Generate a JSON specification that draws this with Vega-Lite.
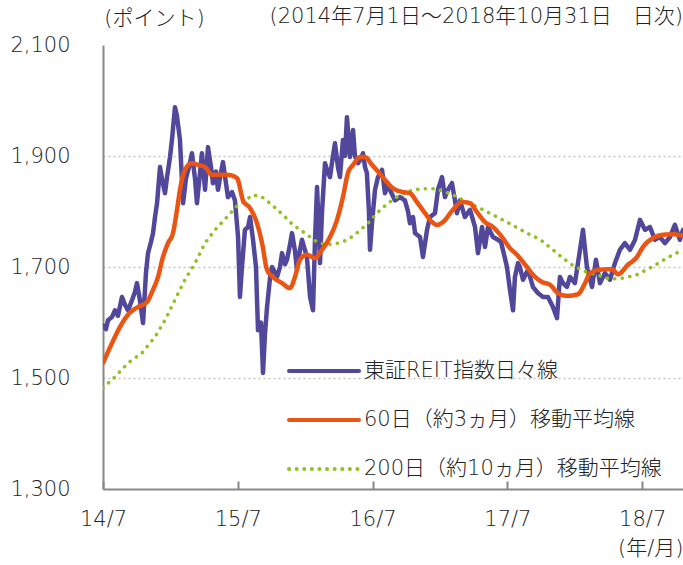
{
  "$schema": "https://vega.github.io/schema/vega-lite/v6.json",
  "width": 580,
  "height": 444,
  "autosize": {"type": "none"},
  "padding": {"left": 103, "top": 45, "right": 0, "bottom": 76},
  "background": "white",
  "config": {
    "view": {"stroke": null},
    "font": "DejaVu Sans, Noto Sans CJK JP",
    "axis": {"labelFont": "DejaVu Sans, Noto Sans CJK JP", "titleFont": "DejaVu Sans, Noto Sans CJK JP", "labelFontWeight": 300, "titleFontWeight": 300},
    "legend": {"labelFont": "DejaVu Sans, Noto Sans CJK JP", "labelFontWeight": 300}
  },
  "title": {
    "text": "(2014年7月1日～2018年10月31日　日次)",
    "anchor": "end",
    "frame": "group",
    "fontSize": 21,
    "fontWeight": 300,
    "color": "#222222",
    "offset": 16,
    "dy": 36,
    "font": "DejaVu Sans, Noto Sans CJK JP"
  },
  "data": {
    "values": [
      {"series": "東証REIT指数日々線", "t": 2014.500, "v": 1595},
      {"series": "東証REIT指数日々線", "t": 2014.522, "v": 1588},
      {"series": "東証REIT指数日々線", "t": 2014.537, "v": 1604},
      {"series": "東証REIT指数日々線", "t": 2014.567, "v": 1610},
      {"series": "東証REIT指数日々線", "t": 2014.589, "v": 1622},
      {"series": "東証REIT指数日々線", "t": 2014.611, "v": 1612},
      {"series": "東証REIT指数日々線", "t": 2014.641, "v": 1646},
      {"series": "東証REIT指数日々線", "t": 2014.663, "v": 1632},
      {"series": "東証REIT指数日々線", "t": 2014.685, "v": 1622},
      {"series": "東証REIT指数日々線", "t": 2014.715, "v": 1640},
      {"series": "東証REIT指数日々線", "t": 2014.737, "v": 1655},
      {"series": "東証REIT指数日々線", "t": 2014.752, "v": 1671},
      {"series": "東証REIT指数日々線", "t": 2014.774, "v": 1640},
      {"series": "東証REIT指数日々線", "t": 2014.797, "v": 1599},
      {"series": "東証REIT指数日々線", "t": 2014.819, "v": 1690},
      {"series": "東証REIT指数日々線", "t": 2014.834, "v": 1725},
      {"series": "東証REIT指数日々線", "t": 2014.856, "v": 1745},
      {"series": "東証REIT指数日々線", "t": 2014.871, "v": 1761},
      {"series": "東証REIT指数日々線", "t": 2014.886, "v": 1790},
      {"series": "東証REIT指数日々線", "t": 2014.901, "v": 1815},
      {"series": "東証REIT指数日々線", "t": 2014.923, "v": 1880},
      {"series": "東証REIT指数日々線", "t": 2014.938, "v": 1858},
      {"series": "東証REIT指数日々線", "t": 2014.960, "v": 1833},
      {"series": "東証REIT指数日々線", "t": 2014.975, "v": 1862},
      {"series": "東証REIT指数日々線", "t": 2014.997, "v": 1898},
      {"series": "東証REIT指数日々線", "t": 2015.012, "v": 1930},
      {"series": "東証REIT指数日々線", "t": 2015.034, "v": 1988},
      {"series": "東証REIT指数日々線", "t": 2015.049, "v": 1972},
      {"series": "東証REIT指数日々線", "t": 2015.071, "v": 1929},
      {"series": "東証REIT指数日々線", "t": 2015.094, "v": 1815},
      {"series": "東証REIT指数日々線", "t": 2015.116, "v": 1860},
      {"series": "東証REIT指数日々線", "t": 2015.138, "v": 1880},
      {"series": "東証REIT指数日々線", "t": 2015.160, "v": 1905},
      {"series": "東証REIT指数日々線", "t": 2015.183, "v": 1858},
      {"series": "東証REIT指数日々線", "t": 2015.197, "v": 1815},
      {"series": "東証REIT指数日々線", "t": 2015.220, "v": 1870},
      {"series": "東証REIT指数日々線", "t": 2015.234, "v": 1905},
      {"series": "東証REIT指数日々線", "t": 2015.257, "v": 1839},
      {"series": "東証REIT指数日々線", "t": 2015.279, "v": 1916},
      {"series": "東証REIT指数日々線", "t": 2015.301, "v": 1880},
      {"series": "東証REIT指数日々線", "t": 2015.316, "v": 1851},
      {"series": "東証REIT指数日々線", "t": 2015.338, "v": 1872},
      {"series": "東証REIT指数日々線", "t": 2015.353, "v": 1839},
      {"series": "東証REIT指数日々線", "t": 2015.375, "v": 1870},
      {"series": "東証REIT指数日々線", "t": 2015.390, "v": 1889},
      {"series": "東証REIT指数日々線", "t": 2015.413, "v": 1850},
      {"series": "東証REIT指数日々線", "t": 2015.427, "v": 1826},
      {"series": "東証REIT指数日々線", "t": 2015.457, "v": 1835},
      {"series": "東証REIT指数日々線", "t": 2015.479, "v": 1820},
      {"series": "東証REIT指数日々線", "t": 2015.502, "v": 1754},
      {"series": "東証REIT指数日々線", "t": 2015.516, "v": 1646},
      {"series": "東証REIT指数日々線", "t": 2015.531, "v": 1700},
      {"series": "東証REIT指数日々線", "t": 2015.553, "v": 1767},
      {"series": "東証REIT指数日々線", "t": 2015.576, "v": 1772},
      {"series": "東証REIT指数日々線", "t": 2015.591, "v": 1790},
      {"series": "東証REIT指数日々線", "t": 2015.613, "v": 1749},
      {"series": "東証REIT指数日々線", "t": 2015.635, "v": 1700},
      {"series": "東証REIT指数日々線", "t": 2015.650, "v": 1586},
      {"series": "東証REIT指数日々線", "t": 2015.672, "v": 1600},
      {"series": "東証REIT指数日々線", "t": 2015.687, "v": 1509},
      {"series": "東証REIT指数日々線", "t": 2015.702, "v": 1580},
      {"series": "東証REIT指数日々線", "t": 2015.717, "v": 1628},
      {"series": "東証REIT指数日々線", "t": 2015.739, "v": 1680},
      {"series": "東証REIT指数日々線", "t": 2015.754, "v": 1700},
      {"series": "東証REIT指数日々線", "t": 2015.776, "v": 1690},
      {"series": "東証REIT指数日々線", "t": 2015.791, "v": 1682},
      {"series": "東証REIT指数日々線", "t": 2015.813, "v": 1700},
      {"series": "東証REIT指数日々線", "t": 2015.828, "v": 1725},
      {"series": "東証REIT指数日々線", "t": 2015.850, "v": 1705},
      {"series": "東証REIT指数日々線", "t": 2015.865, "v": 1713},
      {"series": "東証REIT指数日々線", "t": 2015.887, "v": 1740},
      {"series": "東証REIT指数日々線", "t": 2015.902, "v": 1761},
      {"series": "東証REIT指数日々線", "t": 2015.924, "v": 1730},
      {"series": "東証REIT指数日々線", "t": 2015.939, "v": 1695},
      {"series": "東証REIT指数日々線", "t": 2015.961, "v": 1730},
      {"series": "東証REIT指数日々線", "t": 2015.976, "v": 1749},
      {"series": "東証REIT指数日々線", "t": 2015.999, "v": 1730},
      {"series": "東証REIT指数日々線", "t": 2016.013, "v": 1718},
      {"series": "東証REIT指数日々線", "t": 2016.036, "v": 1646},
      {"series": "東証REIT指数日々線", "t": 2016.058, "v": 1622},
      {"series": "東証REIT指数日々線", "t": 2016.073, "v": 1750},
      {"series": "東証REIT指数日々線", "t": 2016.088, "v": 1844},
      {"series": "東証REIT指数日々線", "t": 2016.102, "v": 1760},
      {"series": "東証REIT指数日々線", "t": 2016.110, "v": 1707},
      {"series": "東証REIT指数日々線", "t": 2016.125, "v": 1800},
      {"series": "東証REIT指数日々線", "t": 2016.147, "v": 1887},
      {"series": "東証REIT指数日々線", "t": 2016.169, "v": 1870},
      {"series": "東証REIT指数日々線", "t": 2016.184, "v": 1862},
      {"series": "東証REIT指数日々線", "t": 2016.206, "v": 1900},
      {"series": "東証REIT指数日々線", "t": 2016.221, "v": 1923},
      {"series": "東証REIT指数日々線", "t": 2016.243, "v": 1880},
      {"series": "東証REIT指数日々線", "t": 2016.258, "v": 1862},
      {"series": "東証REIT指数日々線", "t": 2016.280, "v": 1929},
      {"series": "東証REIT指数日々線", "t": 2016.295, "v": 1900},
      {"series": "東証REIT指数日々線", "t": 2016.310, "v": 1970},
      {"series": "東証REIT指数日々線", "t": 2016.332, "v": 1898},
      {"series": "東証REIT指数日々線", "t": 2016.355, "v": 1947},
      {"series": "東証REIT指数日々線", "t": 2016.369, "v": 1900},
      {"series": "東証REIT指数日々線", "t": 2016.392, "v": 1887},
      {"series": "東証REIT指数日々線", "t": 2016.414, "v": 1895},
      {"series": "東証REIT指数日々線", "t": 2016.429, "v": 1905},
      {"series": "東証REIT指数日々線", "t": 2016.444, "v": 1880},
      {"series": "東証REIT指数日々線", "t": 2016.458, "v": 1869},
      {"series": "東証REIT指数日々線", "t": 2016.473, "v": 1800},
      {"series": "東証REIT指数日々線", "t": 2016.481, "v": 1731},
      {"series": "東証REIT指数日々線", "t": 2016.496, "v": 1780},
      {"series": "東証REIT指数日々線", "t": 2016.518, "v": 1839},
      {"series": "東証REIT指数日々線", "t": 2016.540, "v": 1862},
      {"series": "東証REIT指数日々線", "t": 2016.570, "v": 1875},
      {"series": "東証REIT指数日々線", "t": 2016.592, "v": 1833},
      {"series": "東証REIT指数日々線", "t": 2016.614, "v": 1850},
      {"series": "東証REIT指数日々線", "t": 2016.629, "v": 1839},
      {"series": "東証REIT指数日々線", "t": 2016.666, "v": 1820},
      {"series": "東証REIT指数日々線", "t": 2016.703, "v": 1826},
      {"series": "東証REIT指数日々線", "t": 2016.740, "v": 1820},
      {"series": "東証REIT指数日々線", "t": 2016.763, "v": 1800},
      {"series": "東証REIT指数日々線", "t": 2016.777, "v": 1779},
      {"series": "東証REIT指数日々線", "t": 2016.800, "v": 1790},
      {"series": "東証REIT指数日々線", "t": 2016.815, "v": 1761},
      {"series": "東証REIT指数日々線", "t": 2016.852, "v": 1754},
      {"series": "東証REIT指数日々線", "t": 2016.874, "v": 1718},
      {"series": "東証REIT指数日々線", "t": 2016.904, "v": 1767},
      {"series": "東証REIT指数日々線", "t": 2016.926, "v": 1790},
      {"series": "東証REIT指数日々線", "t": 2016.963, "v": 1797},
      {"series": "東証REIT指数日々線", "t": 2016.985, "v": 1839},
      {"series": "東証REIT指数日々線", "t": 2017.015, "v": 1862},
      {"series": "東証REIT指数日々線", "t": 2017.037, "v": 1826},
      {"series": "東証REIT指数日々線", "t": 2017.059, "v": 1839},
      {"series": "東証REIT指数日々線", "t": 2017.089, "v": 1851},
      {"series": "東証REIT指数日々線", "t": 2017.111, "v": 1820},
      {"series": "東証REIT指数日々線", "t": 2017.126, "v": 1797},
      {"series": "東証REIT指数日々線", "t": 2017.148, "v": 1820},
      {"series": "東証REIT指数日々線", "t": 2017.185, "v": 1790},
      {"series": "東証REIT指数日々線", "t": 2017.223, "v": 1803},
      {"series": "東証REIT指数日々線", "t": 2017.260, "v": 1772},
      {"series": "東証REIT指数日々線", "t": 2017.282, "v": 1725},
      {"series": "東証REIT指数日々線", "t": 2017.312, "v": 1772},
      {"series": "東証REIT指数日々線", "t": 2017.334, "v": 1736},
      {"series": "東証REIT指数日々線", "t": 2017.356, "v": 1772},
      {"series": "東証REIT指数日々線", "t": 2017.393, "v": 1754},
      {"series": "東証REIT指数日々線", "t": 2017.430, "v": 1749},
      {"series": "東証REIT指数日々線", "t": 2017.453, "v": 1745},
      {"series": "東証REIT指数日々線", "t": 2017.467, "v": 1731},
      {"series": "東証REIT指数日々線", "t": 2017.497, "v": 1700},
      {"series": "東証REIT指数日々線", "t": 2017.519, "v": 1659},
      {"series": "東証REIT指数日々線", "t": 2017.542, "v": 1622},
      {"series": "東証REIT指数日々線", "t": 2017.556, "v": 1682},
      {"series": "東証REIT指数日々線", "t": 2017.579, "v": 1707},
      {"series": "東証REIT指数日々線", "t": 2017.593, "v": 1700},
      {"series": "東証REIT指数日々線", "t": 2017.616, "v": 1677},
      {"series": "東証REIT指数日々線", "t": 2017.653, "v": 1695},
      {"series": "東証REIT指数日々線", "t": 2017.690, "v": 1664},
      {"series": "東証REIT指数日々線", "t": 2017.727, "v": 1653},
      {"series": "東証REIT指数日々線", "t": 2017.764, "v": 1646},
      {"series": "東証REIT指数日々線", "t": 2017.801, "v": 1646},
      {"series": "東証REIT指数日々線", "t": 2017.838, "v": 1628},
      {"series": "東証REIT指数日々線", "t": 2017.868, "v": 1608},
      {"series": "東証REIT指数日々線", "t": 2017.890, "v": 1682},
      {"series": "東証REIT指数日々線", "t": 2017.912, "v": 1671},
      {"series": "東証REIT指数日々線", "t": 2017.942, "v": 1664},
      {"series": "東証REIT指数日々線", "t": 2017.964, "v": 1682},
      {"series": "東証REIT指数日々線", "t": 2018.001, "v": 1671},
      {"series": "東証REIT指数日々線", "t": 2018.039, "v": 1731},
      {"series": "東証REIT指数日々線", "t": 2018.061, "v": 1767},
      {"series": "東証REIT指数日々線", "t": 2018.090, "v": 1700},
      {"series": "東証REIT指数日々線", "t": 2018.128, "v": 1664},
      {"series": "東証REIT指数日々線", "t": 2018.157, "v": 1713},
      {"series": "東証REIT指数日々線", "t": 2018.187, "v": 1671},
      {"series": "東証REIT指数日々線", "t": 2018.224, "v": 1689},
      {"series": "東証REIT指数日々線", "t": 2018.261, "v": 1677},
      {"series": "東証REIT指数日々線", "t": 2018.298, "v": 1707},
      {"series": "東証REIT指数日々線", "t": 2018.335, "v": 1731},
      {"series": "東証REIT指数日々線", "t": 2018.372, "v": 1743},
      {"series": "東証REIT指数日々線", "t": 2018.410, "v": 1731},
      {"series": "東証REIT指数日々線", "t": 2018.447, "v": 1749},
      {"series": "東証REIT指数日々線", "t": 2018.484, "v": 1785},
      {"series": "東証REIT指数日々線", "t": 2018.521, "v": 1767},
      {"series": "東証REIT指数日々線", "t": 2018.558, "v": 1772},
      {"series": "東証REIT指数日々線", "t": 2018.595, "v": 1749},
      {"series": "東証REIT指数日々線", "t": 2018.632, "v": 1754},
      {"series": "東証REIT指数日々線", "t": 2018.669, "v": 1743},
      {"series": "東証REIT指数日々線", "t": 2018.706, "v": 1754},
      {"series": "東証REIT指数日々線", "t": 2018.743, "v": 1776},
      {"series": "東証REIT指数日々線", "t": 2018.780, "v": 1749},
      {"series": "東証REIT指数日々線", "t": 2018.803, "v": 1767},

      {"series": "60日（約3ヵ月）移動平均線", "t": 2014.500, "v": 1527},
      {"series": "60日（約3ヵ月）移動平均線", "t": 2014.567, "v": 1563},
      {"series": "60日（約3ヵ月）移動平均線", "t": 2014.626, "v": 1592},
      {"series": "60日（約3ヵ月）移動平均線", "t": 2014.685, "v": 1614},
      {"series": "60日（約3ヵ月）移動平均線", "t": 2014.760, "v": 1628},
      {"series": "60日（約3ヵ月）移動平均線", "t": 2014.826, "v": 1637},
      {"series": "60日（約3ヵ月）移動平均線", "t": 2014.871, "v": 1659},
      {"series": "60日（約3ヵ月）移動平均線", "t": 2014.908, "v": 1682},
      {"series": "60日（約3ヵ月）移動平均線", "t": 2014.945, "v": 1718},
      {"series": "60日（約3ヵ月）移動平均線", "t": 2014.982, "v": 1743},
      {"series": "60日（約3ヵ月）移動平均線", "t": 2015.019, "v": 1761},
      {"series": "60日（約3ヵ月）移動平均線", "t": 2015.049, "v": 1803},
      {"series": "60日（約3ヵ月）移動平均線", "t": 2015.071, "v": 1839},
      {"series": "60日（約3ヵ月）移動平均線", "t": 2015.108, "v": 1875},
      {"series": "60日（約3ヵ月）移動平均線", "t": 2015.160, "v": 1887},
      {"series": "60日（約3ヵ月）移動平均線", "t": 2015.205, "v": 1884},
      {"series": "60日（約3ヵ月）移動平均線", "t": 2015.257, "v": 1880},
      {"series": "60日（約3ヵ月）移動平均線", "t": 2015.309, "v": 1866},
      {"series": "60日（約3ヵ月）移動平均線", "t": 2015.353, "v": 1866},
      {"series": "60日（約3ヵ月）移動平均線", "t": 2015.427, "v": 1866},
      {"series": "60日（約3ヵ月）移動平均線", "t": 2015.494, "v": 1860},
      {"series": "60日（約3ヵ月）移動平均線", "t": 2015.539, "v": 1820},
      {"series": "60日（約3ヵ月）移動平均線", "t": 2015.591, "v": 1806},
      {"series": "60日（約3ヵ月）移動平均線", "t": 2015.642, "v": 1779},
      {"series": "60日（約3ヵ月）移動平均線", "t": 2015.680, "v": 1743},
      {"series": "60日（約3ヵ月）移動平均線", "t": 2015.717, "v": 1695},
      {"series": "60日（約3ヵ月）移動平均線", "t": 2015.761, "v": 1682},
      {"series": "60日（約3ヵ月）移動平均線", "t": 2015.828, "v": 1671},
      {"series": "60日（約3ヵ月）移動平均線", "t": 2015.887, "v": 1662},
      {"series": "60日（約3ヵ月）移動平均線", "t": 2015.924, "v": 1682},
      {"series": "60日（約3ヵ月）移動平均線", "t": 2015.961, "v": 1713},
      {"series": "60日（約3ヵ月）移動平均線", "t": 2016.013, "v": 1722},
      {"series": "60日（約3ヵ月）移動平均線", "t": 2016.073, "v": 1716},
      {"series": "60日（約3ヵ月）移動平均線", "t": 2016.125, "v": 1731},
      {"series": "60日（約3ヵ月）移動平均線", "t": 2016.184, "v": 1754},
      {"series": "60日（約3ヵ月）移動平均線", "t": 2016.236, "v": 1785},
      {"series": "60日（約3ヵ月）移動平均線", "t": 2016.280, "v": 1826},
      {"series": "60日（約3ヵ月）移動平均線", "t": 2016.317, "v": 1869},
      {"series": "60日（約3ヵ月）移動平均線", "t": 2016.355, "v": 1884},
      {"series": "60日（約3ヵ月）移動平均線", "t": 2016.407, "v": 1898},
      {"series": "60日（約3ヵ月）移動平均線", "t": 2016.444, "v": 1898},
      {"series": "60日（約3ヵ月）移動平均線", "t": 2016.496, "v": 1884},
      {"series": "60日（約3ヵ月）移動平均線", "t": 2016.540, "v": 1872},
      {"series": "60日（約3ヵ月）移動平均線", "t": 2016.592, "v": 1857},
      {"series": "60日（約3ヵ月）移動平均線", "t": 2016.651, "v": 1842},
      {"series": "60日（約3ヵ月）移動平均線", "t": 2016.726, "v": 1835},
      {"series": "60日（約3ヵ月）移動平均線", "t": 2016.777, "v": 1833},
      {"series": "60日（約3ヵ月）移動平均線", "t": 2016.829, "v": 1817},
      {"series": "60日（約3ヵ月）移動平均線", "t": 2016.889, "v": 1797},
      {"series": "60日（約3ヵ月）移動平均線", "t": 2016.941, "v": 1781},
      {"series": "60日（約3ヵ月）移動平均線", "t": 2016.978, "v": 1776},
      {"series": "60日（約3ヵ月）移動平均線", "t": 2017.022, "v": 1781},
      {"series": "60日（約3ヵ月）移動平均線", "t": 2017.096, "v": 1803},
      {"series": "60日（約3ヵ月）移動平均線", "t": 2017.163, "v": 1817},
      {"series": "60日（約3ヵ月）移動平均線", "t": 2017.223, "v": 1815},
      {"series": "60日（約3ヵ月）移動平均線", "t": 2017.274, "v": 1799},
      {"series": "60日（約3ヵ月）移動平均線", "t": 2017.334, "v": 1781},
      {"series": "60日（約3ヵ月）移動平均線", "t": 2017.393, "v": 1772},
      {"series": "60日（約3ヵ月）移動平均線", "t": 2017.460, "v": 1754},
      {"series": "60日（約3ヵ月）移動平均線", "t": 2017.519, "v": 1734},
      {"series": "60日（約3ヵ月）移動平均線", "t": 2017.571, "v": 1722},
      {"series": "60日（約3ヵ月）移動平均線", "t": 2017.645, "v": 1700},
      {"series": "60日（約3ヵ月）移動平均線", "t": 2017.690, "v": 1686},
      {"series": "60日（約3ヵ月）移動平均線", "t": 2017.757, "v": 1673},
      {"series": "60日（約3ヵ月）移動平均線", "t": 2017.816, "v": 1668},
      {"series": "60日（約3ヵ月）移動平均線", "t": 2017.875, "v": 1653},
      {"series": "60日（約3ヵ月）移動平均線", "t": 2017.942, "v": 1648},
      {"series": "60日（約3ヵ月）移動平均線", "t": 2018.024, "v": 1651},
      {"series": "60日（約3ヵ月）移動平均線", "t": 2018.076, "v": 1671},
      {"series": "60日（約3ヵ月）移動平均線", "t": 2018.113, "v": 1689},
      {"series": "60日（約3ヵ月）移動平均線", "t": 2018.187, "v": 1695},
      {"series": "60日（約3ヵ月）移動平均線", "t": 2018.276, "v": 1696},
      {"series": "60日（約3ヵ月）移動平均線", "t": 2018.320, "v": 1687},
      {"series": "60日（約3ヵ月）移動平均線", "t": 2018.395, "v": 1704},
      {"series": "60日（約3ヵ月）移動平均線", "t": 2018.461, "v": 1718},
      {"series": "60日（約3ヵ月）移動平均線", "t": 2018.506, "v": 1736},
      {"series": "60日（約3ヵ月）移動平均線", "t": 2018.580, "v": 1752},
      {"series": "60日（約3ヵ月）移動平均線", "t": 2018.654, "v": 1758},
      {"series": "60日（約3ヵ月）移動平均線", "t": 2018.728, "v": 1759},
      {"series": "60日（約3ヵ月）移動平均線", "t": 2018.803, "v": 1756},

      {"series": "200日（約10ヵ月）移動平均線", "t": 2014.500, "v": 1482},
      {"series": "200日（約10ヵ月）移動平均線", "t": 2014.589, "v": 1502},
      {"series": "200日（約10ヵ月）移動平均線", "t": 2014.685, "v": 1527},
      {"series": "200日（約10ヵ月）移動平均線", "t": 2014.789, "v": 1545},
      {"series": "200日（約10ヵ月）移動平均線", "t": 2014.886, "v": 1574},
      {"series": "200日（約10ヵ月）移動平均線", "t": 2014.960, "v": 1604},
      {"series": "200日（約10ヵ月）移動平均線", "t": 2015.034, "v": 1641},
      {"series": "200日（約10ヵ月）移動平均線", "t": 2015.108, "v": 1677},
      {"series": "200日（約10ヵ月）移動平均線", "t": 2015.183, "v": 1707},
      {"series": "200日（約10ヵ月）移動平均線", "t": 2015.257, "v": 1743},
      {"series": "200日（約10ヵ月）移動平均線", "t": 2015.331, "v": 1767},
      {"series": "200日（約10ヵ月）移動平均線", "t": 2015.420, "v": 1790},
      {"series": "200日（約10ヵ月）移動平均線", "t": 2015.494, "v": 1810},
      {"series": "200日（約10ヵ月）移動平均線", "t": 2015.539, "v": 1817},
      {"series": "200日（約10ヵ月）移動平均線", "t": 2015.613, "v": 1830},
      {"series": "200日（約10ヵ月）移動平均線", "t": 2015.680, "v": 1826},
      {"series": "200日（約10ヵ月）移動平均線", "t": 2015.754, "v": 1812},
      {"series": "200日（約10ヵ月）移動平均線", "t": 2015.835, "v": 1794},
      {"series": "200日（約10ヵ月）移動平均線", "t": 2015.909, "v": 1776},
      {"series": "200日（約10ヵ月）移動平均線", "t": 2015.999, "v": 1761},
      {"series": "200日（約10ヵ月）移動平均線", "t": 2016.088, "v": 1745},
      {"series": "200日（約10ヵ月）移動平均線", "t": 2016.162, "v": 1740},
      {"series": "200日（約10ヵ月）移動平均線", "t": 2016.243, "v": 1743},
      {"series": "200日（約10ヵ月）移動平均線", "t": 2016.317, "v": 1749},
      {"series": "200日（約10ヵ月）移動平均線", "t": 2016.392, "v": 1763},
      {"series": "200日（約10ヵ月）移動平均線", "t": 2016.466, "v": 1779},
      {"series": "200日（約10ヵ月）移動平均線", "t": 2016.540, "v": 1799},
      {"series": "200日（約10ヵ月）移動平均線", "t": 2016.614, "v": 1815},
      {"series": "200日（約10ヵ月）移動平均線", "t": 2016.703, "v": 1830},
      {"series": "200日（約10ヵ月）移動平均線", "t": 2016.800, "v": 1839},
      {"series": "200日（約10ヵ月）移動平均線", "t": 2016.874, "v": 1841},
      {"series": "200日（約10ヵ月）移動平均線", "t": 2016.948, "v": 1841},
      {"series": "200日（約10ヵ月）移動平均線", "t": 2017.022, "v": 1837},
      {"series": "200日（約10ヵ月）移動平均線", "t": 2017.096, "v": 1830},
      {"series": "200日（約10ヵ月）移動平均線", "t": 2017.200, "v": 1817},
      {"series": "200日（約10ヵ月）移動平均線", "t": 2017.297, "v": 1806},
      {"series": "200日（約10ヵ月）移動平均線", "t": 2017.393, "v": 1794},
      {"series": "200日（約10ヵ月）移動平均線", "t": 2017.497, "v": 1781},
      {"series": "200日（約10ヵ月）移動平均線", "t": 2017.579, "v": 1770},
      {"series": "200日（約10ヵ月）移動平均線", "t": 2017.645, "v": 1761},
      {"series": "200日（約10ヵ月）移動平均線", "t": 2017.742, "v": 1750},
      {"series": "200日（約10ヵ月）移動平均線", "t": 2017.838, "v": 1731},
      {"series": "200日（約10ヵ月）移動平均線", "t": 2017.912, "v": 1716},
      {"series": "200日（約10ヵ月）移動平均線", "t": 2017.979, "v": 1704},
      {"series": "200日（約10ヵ月）移動平均線", "t": 2018.061, "v": 1693},
      {"series": "200日（約10ヵ月）移動平均線", "t": 2018.165, "v": 1686},
      {"series": "200日（約10ヵ月）移動平均線", "t": 2018.261, "v": 1678},
      {"series": "200日（約10ヵ月）移動平均線", "t": 2018.358, "v": 1680},
      {"series": "200日（約10ヵ月）移動平均線", "t": 2018.461, "v": 1686},
      {"series": "200日（約10ヵ月）移動平均線", "t": 2018.573, "v": 1700},
      {"series": "200日（約10ヵ月）移動平均線", "t": 2018.669, "v": 1714},
      {"series": "200日（約10ヵ月）移動平均線", "t": 2018.728, "v": 1722},
      {"series": "200日（約10ヵ月）移動平均線", "t": 2018.803, "v": 1731}
    ]
  },
  "encoding": {
    "x": {
      "field": "t",
      "type": "quantitative",
      "scale": {"domain": [2014.5, 2018.803], "nice": false, "zero": false},
      "axis": {
        "values": [2014.5, 2015.5, 2016.5, 2017.5, 2018.5],
        "labelExpr": "floor(datum.value) % 100 + '/7'",
        "labelFontSize": 21,
        "labelColor": "#222222",
        "labelPadding": 27,
        "labelFlush": false,
        "domainColor": "#888888",
        "domainWidth": 2,
        "tickColor": "#888888",
        "tickWidth": 2,
        "tickSize": -8,
        "grid": false,
        "title": "(年/月)",
        "titleFontSize": 21,
        "titleColor": "#222222",
        "titleAnchor": "end",
        "titleAlign": "right",
        "titleX": 580,
        "titleY": 59,
        "titleBaseline": "middle"
      }
    },
    "y": {
      "field": "v",
      "type": "quantitative",
      "scale": {"domain": [1300, 2100], "nice": false, "zero": false},
      "axis": {
        "values": [1300, 1500, 1700, 1900, 2100],
        "format": ",.0f",
        "labelFontSize": 21,
        "labelColor": "#222222",
        "labelPadding": 33,
        "domainColor": "#888888",
        "domainWidth": 2,
        "ticks": false,
        "grid": true,
        "gridColor": "#c4c4c4",
        "gridDash": [2, 3],
        "gridWidth": 1.5,
        "gridOpacity": {"condition": {"test": "datum.value == 2100 || datum.value == 1300", "value": 0}, "value": 1},
        "title": "(ポイント)",
        "titleAngle": 0,
        "titleFontSize": 21,
        "titleColor": "#222222",
        "titleAlign": "center",
        "titleBaseline": "middle",
        "titleX": 51,
        "titleY": -27
      }
    },
    "color": {
      "field": "series",
      "type": "nominal",
      "scale": {
        "domain": ["東証REIT指数日々線", "60日（約3ヵ月）移動平均線", "200日（約10ヵ月）移動平均線"],
        "range": ["#51489c", "#ea5514", "#8fc31f"]
      },
      "legend": {
        "orient": "none",
        "legendX": 184,
        "legendY": 289,
        "title": null,
        "padding": 0,
        "symbolType": "stroke",
        "symbolSize": 4900,
        "symbolStrokeWidth": 4,
        "labelFontSize": 21,
        "labelColor": "#222222",
        "labelOffset": 3,
        "rowPadding": 2,
        "labelLimit": 400,
        "encode": {"symbols": {"update": {"strokeCap": {"value": "round"}}}}
      }
    },
    "strokeDash": {
      "field": "series",
      "type": "nominal",
      "scale": {
        "domain": ["東証REIT指数日々線", "60日（約3ヵ月）移動平均線", "200日（約10ヵ月）移動平均線"],
        "range": [[1, 0], [1, 0], [0.1, 7.5]]
      }
    }
  },
  "layer": [
    {
      "transform": [{"filter": "datum.series == '東証REIT指数日々線'"}],
      "mark": {"type": "line", "strokeWidth": 4.5, "strokeJoin": "round", "strokeCap": "round", "clip": true}
    },
    {
      "transform": [{"filter": "datum.series == '200日（約10ヵ月）移動平均線'"}],
      "mark": {"type": "line", "strokeWidth": 3.6, "strokeCap": "round", "clip": true}
    },
    {
      "transform": [{"filter": "datum.series == '60日（約3ヵ月）移動平均線'"}],
      "mark": {"type": "line", "strokeWidth": 4.5, "strokeJoin": "round", "strokeCap": "round", "clip": true, "interpolate": "monotone"}
    }
  ]
}
